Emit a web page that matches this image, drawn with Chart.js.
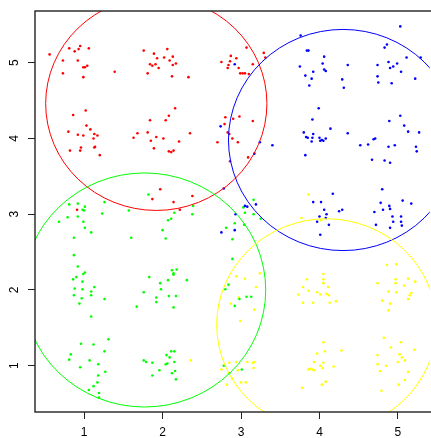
<!DOCTYPE html>
<html>
<head>
<meta charset="utf-8">
<script src="https://cdn.jsdelivr.net/npm/chart.js@4/dist/chart.umd.min.js"></script>
<style>
  body { margin: 0; background: #fff; }
  canvas { display: block; }
</style>
</head>
<body>
<canvas id="chart" width="431" height="438"></canvas>
<script>
// axis ticks
const xTicks = [1, 2, 3, 4, 5];
const yTicks = [1, 2, 3, 4, 5];

// cluster circles (center x, center y, radius)
const circleX = [1.92, 4.30, 1.77, 4.09];
const circleY = [4.46, 3.98, 2.0, 1.54];
const circleR = [1.41, 1.46, 1.545, 1.40];
const circleColors = ['#FF0000', '#0000FF', '#00FF00', '#FFFF00'];

// red points
const redX = [0.56, 0.81, 0.88, 0.93, 0.95, 1.06, 0.73, 0.92, 1.04, 1.01, 0.99, 0.73, 0.99, 1.39,
  1.76, 1.89, 2.06, 1.93, 2.02, 2.13, 2.09, 1.84, 1.87, 1.91, 1.95, 2.17, 2.13, 1.81, 2.12, 2.33,
  3.07, 2.87, 2.94, 2.75, 2.86, 2.84, 2.83, 2.97, 2.99, 3.02, 3.05, 3.1, 3.15, 3.29, 3.31,
  1.02, 0.86, 0.8, 1.03, 1.08, 0.92, 0.99, 1.13, 1.17, 1.12, 0.96, 0.95, 0.82, 1.14, 1.13, 1.2,
  2.16, 2.08, 1.84, 2.04, 1.81, 1.68, 1.63, 1.92, 2.01, 1.85, 2.21, 2.35, 1.89, 2.08, 2.11, 2.14,
  2.8, 2.9, 2.98, 3.15, 2.79, 2.83, 2.85, 2.89, 2.7, 2.96, 3.09, 2.86,
  0.91, 1.97, 1.87, 2.14, 2.38, 2.22];
const redY = [5.11, 5.19, 5.15, 5.18, 5.22, 5.19, 5.03, 5.03, 4.96, 4.94, 4.94, 4.86, 4.81, 4.88,
  5.16, 5.12, 5.18, 5.06, 5.07, 5.08, 5.03, 4.98, 4.96, 4.98, 4.93, 4.99, 4.97, 4.86, 4.82, 4.81,
  5.2, 5.09, 5.06, 5.01, 5.02, 4.97, 4.93, 4.93, 4.86, 4.86, 4.86, 4.85, 4.98, 5.13, 5.07,
  4.37, 4.31, 4.09, 4.17, 4.12, 4.05, 4.04, 4.06, 4.04, 4.0, 3.88, 3.84, 3.84, 3.89, 3.88, 3.78,
  4.4, 4.3, 4.24, 4.24, 4.08, 4.07, 4.01, 4.02, 4.0, 3.97, 3.96, 4.07, 3.87, 3.83, 3.82, 3.84,
  4.28, 4.26, 4.29, 4.23, 4.19, 4.08, 4.06, 4.0, 3.95, 3.95, 3.75, 3.7,
  3.06, 3.33, 3.2, 3.16, 3.24, 3.06];

// blue points
const blueX = [2.92,
  3.76, 3.84, 3.86, 4.06, 4.04, 3.75, 3.92, 3.82, 3.9, 4.06, 4.08, 4.36, 3.87, 4.29, 4.31,
  5.03, 4.83, 4.86, 5.11, 5.29, 4.88, 4.99, 4.94, 4.9, 4.74, 5.04, 4.74, 4.75, 4.92, 5.22,
  2.74, 3.24, 3.4, 3.17,
  3.99, 3.91, 4.14, 3.8, 3.83, 3.85, 3.92, 3.91, 3.9, 4.0, 4.01, 4.03, 4.05, 4.08, 4.36, 3.82,
  5.03, 4.89, 5.08, 5.13, 5.27, 4.69, 4.71, 4.62, 4.52, 4.96, 4.88, 5.23, 5.24, 4.67, 4.83, 4.9,
  2.78, 3.05, 3.08, 3.19, 2.93, 2.92, 2.75,
  4.17, 3.92, 4.02, 4.06, 4.09, 4.25, 4.29, 4.0, 4.08, 3.97, 4.12, 4.01,
  4.8, 4.78, 4.89, 5.06, 5.17, 4.81, 4.9, 4.7, 4.93, 5.04, 4.94, 5.04, 4.72, 5.05, 4.9];
const blueY = [4.98,
  5.36, 5.16, 5.16, 5.08, 4.99, 4.95, 4.88, 4.83, 4.79, 4.91, 4.89, 4.97, 4.7, 4.78, 4.67,
  5.48, 5.2, 5.24, 5.07, 5.07, 5.01, 4.99, 4.95, 4.93, 4.97, 4.88, 4.82, 4.74, 4.73, 4.79,
  4.16, 3.95, 3.91, 3.8,
  4.4, 4.25, 4.13, 4.08, 4.02, 4.01, 4.06, 4.01, 3.96, 4.01, 3.97, 3.98, 3.97, 4.0, 4.07, 3.78,
  4.3, 4.23, 4.17, 4.09, 4.08, 3.99, 4.0, 3.92, 3.91, 3.91, 3.89, 3.89, 3.83, 3.72, 3.71, 3.68,
  3.34, 3.11, 3.1, 3.13, 3.0, 2.79, 2.76,
  3.27, 3.16, 3.16, 3.06, 3.0, 3.04, 3.06, 2.97, 2.95, 2.9, 2.86, 2.73,
  3.33, 3.15, 3.11, 3.18, 3.14, 3.06, 3.07, 3.03, 2.97, 2.97, 2.9, 2.9, 2.86, 2.85, 2.82];

// green points
const greenX = [0.81, 0.92, 1.01, 0.98, 1.0, 0.79, 0.92, 0.68, 0.99, 1.01, 1.09, 0.87, 1.26, 1.23,
  1.82, 1.57, 1.6, 2.15, 2.11, 2.07, 2.38, 2.39, 2.0, 2.04,
  3.16, 3.03, 3.05, 3.16, 3.25, 2.92, 2.81, 3.04, 2.89,
  0.87, 0.92, 1.01, 0.99, 0.9, 0.86, 0.98, 1.13, 0.88, 0.98, 1.09, 1.09, 0.87, 0.97, 0.94, 1.26, 1.09,
  2.12, 2.18, 2.14, 2.14, 1.83, 1.97, 2.07, 2.31, 1.98, 1.76, 1.92, 2.08, 2.17, 1.92, 2.14, 1.67,
  2.89, 2.84, 2.8, 2.98, 3.07, 3.13, 2.92,
  1.31, 0.96, 1.12, 0.83, 1.26, 0.81, 1.07, 1.18, 0.95, 1.27, 1.18, 1.17, 1.12, 1.06, 1.19, 1.19,
  2.11, 2.15, 2.05, 2.09, 1.76, 1.79, 1.87, 2.04, 2.06, 2.15, 1.96, 2.16, 2.12, 1.87, 2.17,
  2.78, 2.85, 3.01];
const greenY = [3.13, 3.14, 3.1, 3.06, 3.05, 2.96, 2.97, 2.9, 2.9, 2.82, 2.76, 2.69, 3.16, 3.01,
  3.26, 3.05, 2.69, 3.02, 2.94, 2.92, 3.0, 3.11, 2.79, 2.68,
  3.19, 3.09, 3.02, 3.0, 2.94, 2.88, 2.82, 2.86, 2.67,
  2.46, 2.31, 2.23, 2.21, 2.17, 2.14, 2.11, 2.04, 2.02, 2.01, 1.98, 1.93, 1.93, 1.89, 1.82, 1.88, 1.65,
  2.26, 2.27, 2.22, 2.2, 2.17, 2.09, 2.13, 2.13, 2.01, 1.97, 1.9, 1.92, 1.92, 1.84, 1.77, 1.78,
  2.41, 2.07, 2.01, 1.88, 1.91, 1.91, 1.79,
  1.35, 1.29, 1.28, 1.15, 1.19, 1.08, 1.07, 1.02, 0.98, 0.92, 0.87, 0.78, 0.73, 0.68, 0.64, 0.58,
  1.19, 1.19, 1.14, 1.11, 1.07, 1.05, 1.04, 1.02, 1.03, 1.05, 0.94, 0.93, 0.9, 0.87, 0.82,
  1.0, 0.9, 0.95];

// yellow points
const yellowX = [3.86, 3.77, 4.02,
  2.94, 3.05, 3.24, 3.19, 2.97, 2.87, 3.17, 2.99,
  4.05, 4.05, 4.05, 3.84, 3.79, 3.86, 4.11, 3.97, 4.01, 4.09, 4.12, 3.73, 3.79, 3.92, 4.13, 4.21,
  4.86, 4.98, 4.97, 5.13, 5.22, 4.74, 4.97, 5.08, 4.88, 4.98, 5.17, 5.15, 5.13, 4.8, 4.9, 4.88,
  2.36,
  2.85, 2.94, 3.08, 3.15, 3.17, 3.16, 2.75, 2.96, 2.89, 2.82, 3.0, 3.06,
  4.05, 3.97, 4.07, 4.28, 3.93, 4.05, 4.01, 4.18, 3.86, 3.88, 3.91, 3.93, 4.04, 4.08, 4.03, 3.78,
  4.82, 4.91, 5.04, 5.21, 4.74, 5.02, 5.05, 5.09, 5.0, 4.74, 4.85, 4.77, 5.13, 5.09, 5.01, 4.79];
const yellowY = [3.26, 2.95, 2.92,
  2.18, 2.15, 2.22, 2.04, 1.9, 1.82, 1.74, 1.59,
  2.21, 2.14, 2.09, 2.14, 2.04, 1.99, 2.04, 1.97, 1.94, 1.95, 1.93, 1.94, 1.83, 1.83, 1.83, 1.85,
  2.33, 2.34, 2.14, 2.15, 2.11, 2.09, 2.09, 2.06, 1.98, 1.97, 1.96, 1.93, 1.88, 1.86, 1.82, 1.73,
  1.07,
  1.04, 1.05, 1.05, 1.04, 1.05, 0.97, 0.95, 0.94, 0.83, 0.75, 0.78, 0.78,
  1.31, 1.16, 1.19, 1.2, 1.05, 1.04, 1.0, 0.99, 0.95, 0.96, 0.95, 0.94, 0.97, 0.79, 0.75, 0.71,
  1.37, 1.24, 1.31, 1.21, 1.14, 1.15, 1.11, 1.07, 1.05, 1.02, 1.0, 0.93, 0.92, 0.81, 0.75, 0.67];

function toPoints(xs, ys) {
  const pts = [];
  for (let i = 0; i < xs.length; i++) {
    pts.push({x: xs[i], y: ys[i]});
  }
  return pts;
}

function pointSet(xs, ys, color) {
  return {
    data: toPoints(xs, ys),
    backgroundColor: color,
    borderWidth: 0,
    pointRadius: 1.3,
    pointHoverRadius: 1.3
  };
}

// box round the plot plus the circles, clipped to the plot region
const framePlugin = {
  id: 'frame',
  afterDatasetsDraw(chart) {
    const ctx = chart.ctx;
    const a = chart.chartArea;
    const xs = chart.scales.x;
    const ys = chart.scales.y;
    ctx.save();
    ctx.beginPath();
    ctx.rect(a.left, a.top, a.right - a.left, a.bottom - a.top);
    ctx.clip();
    ctx.lineWidth = 1;
    for (let i = 0; i < circleX.length; i++) {
      const cx = xs.getPixelForValue(circleX[i]);
      const cy = ys.getPixelForValue(circleY[i]);
      const rx = Math.abs(xs.getPixelForValue(circleX[i] + circleR[i]) - cx);
      const ry = Math.abs(ys.getPixelForValue(circleY[i] + circleR[i]) - cy);
      ctx.strokeStyle = circleColors[i];
      ctx.beginPath();
      ctx.ellipse(cx, cy, rx, ry, 0, 0, Math.PI * 2);
      ctx.stroke();
    }
    ctx.restore();

    ctx.save();
    ctx.strokeStyle = '#222';
    ctx.lineWidth = 1.4;
    ctx.strokeRect(a.left, a.top, a.right - a.left + 5, a.bottom - a.top);
    ctx.restore();
  }
};

const tickFont = {family: "'Liberation Sans', Arial, sans-serif", size: 12};

new Chart(document.getElementById('chart'), {
  type: 'scatter',
  data: {
    datasets: [
      pointSet(redX, redY, '#FF0000'),
      pointSet(blueX, blueY, '#0000FF'),
      pointSet(greenX, greenY, '#00FF00'),
      pointSet(yellowX, yellowY, '#FFFF00')
    ]
  },
  options: {
    responsive: false,
    animation: false,
    devicePixelRatio: 1,
    layout: {padding: {top: 11, right: 0, left: 0, bottom: 0}},
    plugins: {legend: {display: false}, tooltip: {enabled: false}},
    scales: {
      x: {
        type: 'linear',
        min: 0.374,
        max: 5.405,
        afterBuildTicks: (scale) => { scale.ticks = xTicks.map(v => ({value: v})); },
        afterFit: (scale) => {
          scale.height = 26;
          scale.paddingLeft = 0;
          scale.paddingRight = 0;
        },
        grid: {drawOnChartArea: false, drawTicks: true, tickLength: 7, color: '#222'},
        border: {display: false},
        ticks: {font: tickFont, color: '#000', padding: 6, maxRotation: 0, minRotation: 0}
      },
      y: {
        type: 'linear',
        min: 0.389,
        max: 5.683,
        afterBuildTicks: (scale) => { scale.ticks = yTicks.map(v => ({value: v})); },
        afterFit: (scale) => {
          scale.width = 35;
          scale.paddingTop = 0;
          scale.paddingBottom = 0;
        },
        grid: {drawOnChartArea: false, drawTicks: true, tickLength: 7, color: '#222'},
        border: {display: false},
        ticks: {font: tickFont, color: '#000', padding: 10, minRotation: 90, maxRotation: 90, crossAlign: 'center'}
      }
    }
  },
  plugins: [framePlugin]
});
</script>
</body>
</html>
